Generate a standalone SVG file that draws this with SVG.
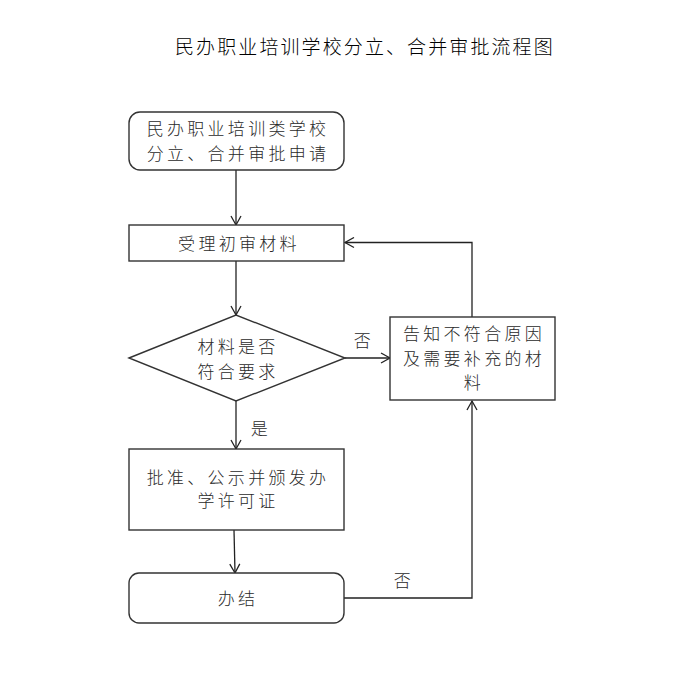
<svg xmlns="http://www.w3.org/2000/svg" width="687" height="690" viewBox="0 0 687 690">
<style>
.bg{fill:#fff}
.box{fill:#fff;stroke:#333;stroke-width:1.4}
.t{font-family:"Noto Sans CJK SC","Noto Sans CJK JP",sans-serif;font-size:17px;font-weight:300;fill:#2a2a2a;text-anchor:middle;dominant-baseline:central;letter-spacing:3.3px}
.title{font-family:"Noto Sans CJK SC","Noto Sans CJK JP",sans-serif;font-size:19px;font-weight:300;fill:#000;letter-spacing:2.1px;dominant-baseline:central}
.c{fill:none;stroke:#222;stroke-width:1.3}
</style>
<defs>
<marker id="ah" markerWidth="12" markerHeight="12" refX="10" refY="6" orient="auto" markerUnits="userSpaceOnUse">
<path d="M1,1 L10,6 L1,11" fill="none" stroke="#222" stroke-width="1.3"/>
</marker>
</defs>
<rect class="bg" x="0" y="0" width="687" height="690"/>
<text class="title" x="175" y="45">民办职业培训学校分立、合并审批流程图</text>
<g id="connectors">
<path class="c" d="M236,170 V225" marker-end="url(#ah)"/>
<path class="c" d="M236,261 V315" marker-end="url(#ah)"/>
<path class="c" d="M345,358 H390" marker-end="url(#ah)"/>
<path class="c" d="M472,317 V242.5 H345" marker-end="url(#ah)"/>
<path class="c" d="M236,401 V449" marker-end="url(#ah)"/>
<path class="c" d="M234,530 L235,573" marker-end="url(#ah)"/>
<path class="c" d="M344,598 H472 V401" marker-end="url(#ah)"/>
<text class="t" x="364" y="339">否</text>
<text class="t" x="261" y="427">是</text>
<text class="t" x="404" y="579">否</text>
</g>
<g id="n1">
<rect class="box" x="129" y="112" width="215" height="58" rx="11"/>
<text class="t" x="238" y="127">民办职业培训类学校</text>
<text class="t" x="238" y="152">分立、合并审批申请</text>
</g>
<g id="n2">
<rect class="box" x="129" y="225" width="215" height="36"/>
<text class="t" x="239" y="242">受理初审材料</text>
</g>
<g id="n3">
<polygon class="box" points="129,358 236,315 345,358 236,401"/>
<text class="t" x="238" y="345">材料是否</text>
<text class="t" x="238" y="370">符合要求</text>
</g>
<g id="n4">
<rect class="box" x="390" y="317" width="165" height="83"/>
<text class="t" x="474" y="332">告知不符合原因</text>
<text class="t" x="474" y="357">及需要补充的材</text>
<text class="t" x="474" y="381">料</text>
</g>
<g id="n5">
<rect class="box" x="129" y="449" width="215" height="81"/>
<text class="t" x="238" y="476">批准、公示并颁发办</text>
<text class="t" x="238" y="499">学许可证</text>
</g>
<g id="n6">
<rect class="box" x="129" y="573" width="215" height="50" rx="10"/>
<text class="t" x="238" y="597">办结</text>
</g>
</svg>
